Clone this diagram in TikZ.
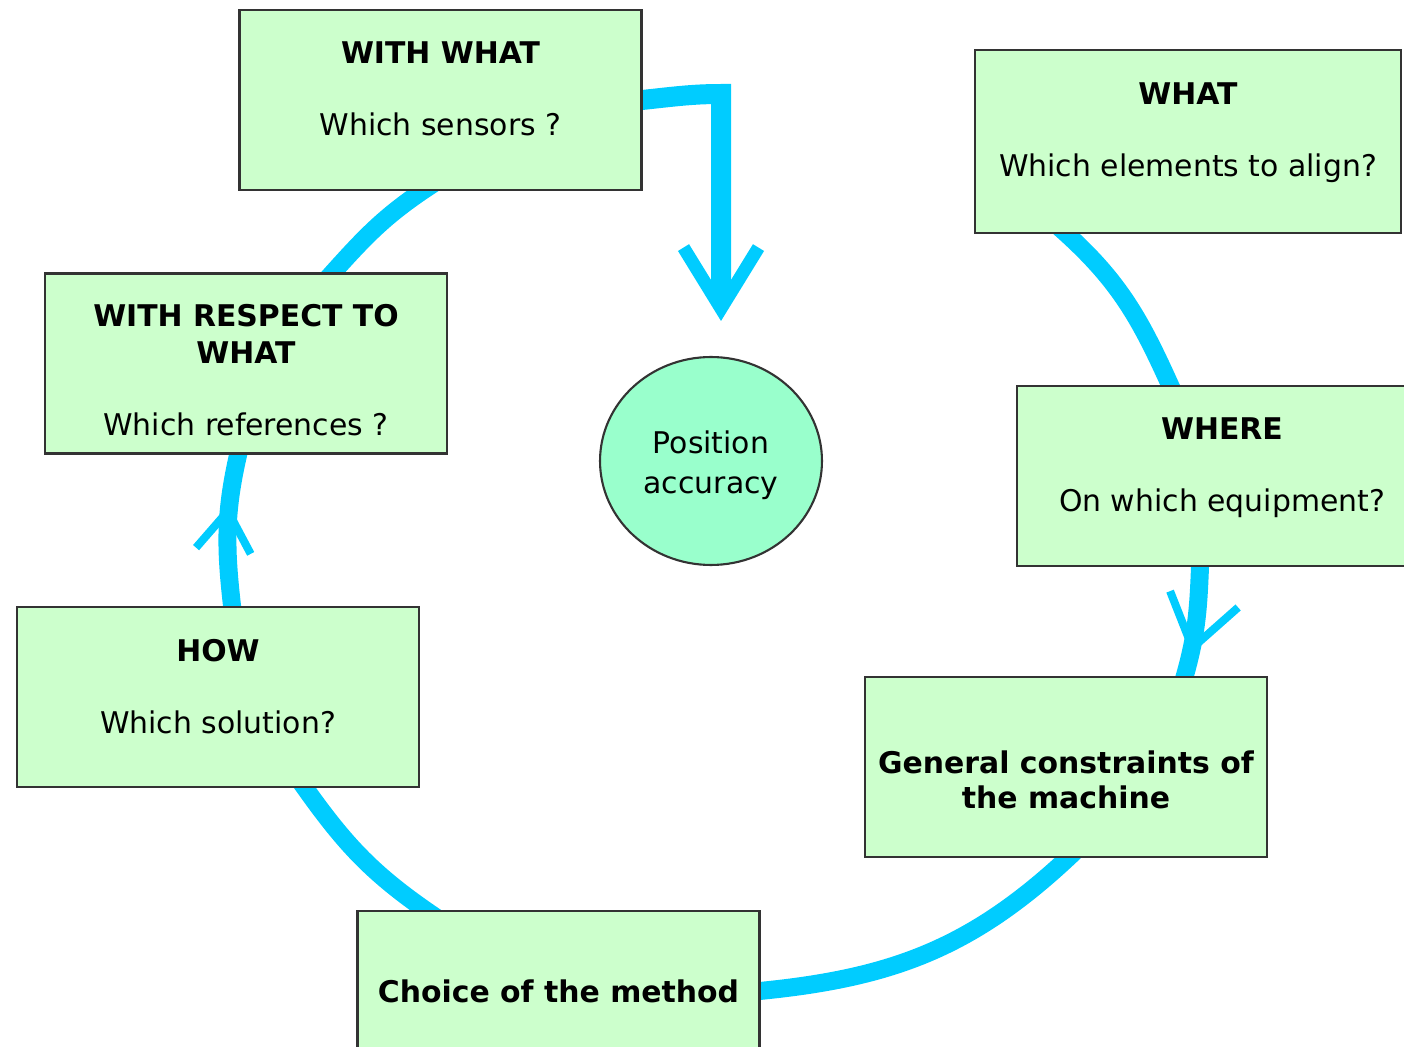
\documentclass[tikz,border=0pt]{standalone}
\usepackage{fontspec}
\setmainfont{DejaVu Sans}
\usetikzlibrary{arrows.meta}
\usetikzlibrary{shapes.geometric}
\usetikzlibrary{decorations.markings}
\usetikzlibrary{backgrounds}

\definecolor{boxgreen}{HTML}{CCFFCC}
\definecolor{discgreen}{HTML}{99FFCC}
\definecolor{loopcyan}{HTML}{00CCFF}

\tikzset{
  question/.style={rectangle, draw=black!80, line width=1.2pt, fill=boxgreen,
    minimum width=8.04cm, minimum height=3.6cm, inner sep=0pt, align=center,
    font=\fontsize{17}{21}\selectfont},
  disc/.style={ellipse, draw=black!80, line width=1.2pt, fill=discgreen,
    minimum width=4.44cm, minimum height=4.16cm, inner sep=0pt, align=center,
    font=\fontsize{17}{23}\selectfont},
  loop/.style={draw=loopcyan, line width=0.36cm, shorten <=-0.3cm, shorten >=-0.3cm},
  midtip/.style n args={3}{postaction=decorate, decoration={markings,
    mark=at position #1 with {\arrow{Straight Barb[length=#2, width=#3, line width=0.16cm, sharp]}}}},
}

\begin{document}
\begin{tikzpicture}[x=0.02cm, y=-0.02cm]

    \useasboundingbox (0,0) rectangle (1404,1047);

    % centre
    \node[disc, text height=40.5pt] (accuracy) at (711,461) {Position\\accuracy};

    % questions round the loop
    \node[question, text depth=0.44cm] (withwhat) at (440.5,100) {\textbf{WITH WHAT}\\[20pt] Which sensors ?};
    \node[question, text depth=0.46cm, minimum width=8.52cm, minimum height=3.66cm] (what) at (1188,141.5) {\textbf{WHAT}\\[20pt] Which elements to align?};
    \node[question, text height=82pt] (wrt) at (246,363.5) {\textbf{WITH RESPECT TO}\\\textbf{WHAT}\\[20pt] Which references ?};
    \node[question, text depth=0.46cm, minimum width=8.2cm] (where) at (1222,476) {\textbf{WHERE}\\[20pt] On which equipment?};
    \node[question, text depth=0.44cm] (how) at (218,697) {\textbf{HOW}\\[20pt] Which solution?};

    % machine and method
    \node[question, text height=47.5pt, font=\fontsize{17}{20}\selectfont\bfseries] (general) at (1066,767) {General constraints of\\the machine};
    \node[question, minimum height=3.2cm, font=\fontsize{17}{20}\selectfont\bfseries] (choice) at (558.5,991) {Choice of the method};

    % the arrow into the centre
    \coordinate (bend) at (721,94);
    \coordinate (aim) at ([xshift=0.2cm, yshift=0.7cm]accuracy.north);

    \begin{pgfonlayer}{background}
    \draw[loop] ([xshift=-2.42cm]what.south) to[out=-41, in=114] ([xshift=-1.04cm]where.north);
    \draw[loop, midtip={0.8}{1.0cm}{1.4cm}] ([xshift=-0.44cm]where.south) to[out=-92, in=73] ([xshift=2.38cm]general.north);
    \draw[loop] ([xshift=0.04cm]general.south) to[out=224, in=5] (choice.east);
    \draw[loop] ([xshift=-2.67cm]choice.north) to[out=146, in=-55] ([xshift=1.74cm]how.south);
    \draw[loop, midtip={0.67}{0.8cm}{1.1cm}] ([xshift=0.28cm]how.north) to[out=97, in=-104] ([xshift=-0.16cm]wrt.south);
    \draw[loop] ([xshift=1.74cm]wrt.north) to[out=48, in=213] ([xshift=-0.37cm]withwhat.south);
    \draw[draw=loopcyan, line width=0.4cm, line join=miter, shorten <=-0.3cm,
      -{Straight Barb[length=1.22cm, width=1.5cm, line width=0.26cm, sharp]}]
      (withwhat.east) to[out=6, in=180] (bend) -- (aim);
    \end{pgfonlayer}

\end{tikzpicture}
\end{document}
